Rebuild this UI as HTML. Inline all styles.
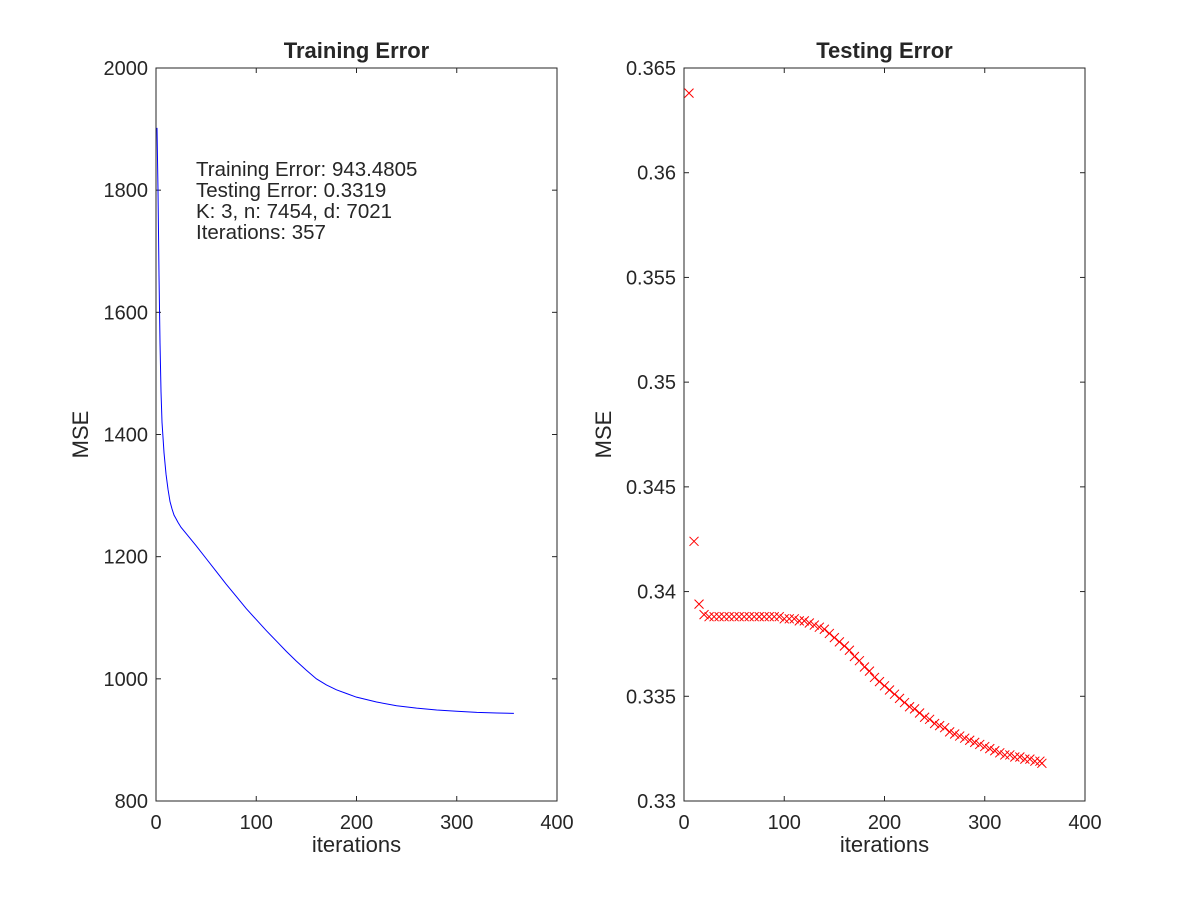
<!DOCTYPE html>
<html><head><meta charset="utf-8"><style>
html,body{margin:0;padding:0;background:#fff;}
svg text{font-family:"Liberation Sans",Helvetica,Arial,sans-serif;fill:#262626;}
</style></head><body>
<svg id="fig" width="1200" height="900" xmlns="http://www.w3.org/2000/svg"></svg>
<script>
const trainIters=[1,2,3,4,5,6,8,10,12,14,16,18,20,22,25,30,40,50,60,70,80,90,100,110,120,130,140,150,160,170,180,190,200,220,240,260,280,300,320,340,357];
const trainVals=[1902,1800,1660,1550,1470,1420,1370,1335,1310,1290,1278,1268,1262,1256,1248,1238,1218,1197,1176,1155,1135,1115,1097,1079,1062,1045,1029,1014,1000,990,982,976,970,962,956,952,949,947,945,944,943.5];
const testIters=[5,10,15,20,25,30,35,40,45,50,55,60,65,70,75,80,85,90,95,100,105,110,115,120,125,130,135,140,145,150,155,160,165,170,175,180,185,190,195,200,205,210,215,220,225,230,235,240,245,250,255,260,265,270,275,280,285,290,295,300,305,310,315,320,325,330,335,340,345,350,355,357];
const testVals=[0.3638,0.3424,0.3394,0.3389,0.3388,0.3388,0.3388,0.3388,0.3388,0.3388,0.3388,0.3388,0.3388,0.3388,0.3388,0.3388,0.3388,0.3388,0.3388,0.3387,0.3387,0.3387,0.3386,0.3386,0.3385,0.3384,0.3383,0.3382,0.3380,0.3378,0.3376,0.3374,0.3372,0.3369,0.3367,0.3364,0.3362,0.3359,0.3357,0.3355,0.3353,0.3351,0.3349,0.3347,0.3345,0.3344,0.3342,0.3340,0.3339,0.3337,0.3336,0.3335,0.3333,0.3332,0.3331,0.3330,0.3329,0.3328,0.3327,0.3326,0.3325,0.3324,0.3323,0.3322,0.3322,0.3321,0.3321,0.3320,0.3320,0.3319,0.3319,0.3318];
const xTicks=[0,100,200,300,400];
const trainYTicks=[800,1000,1200,1400,1600,1800,2000];
const testYTicks=[0.33,0.335,0.34,0.345,0.35,0.355,0.36,0.365];
const testYLabels=["0.33","0.335","0.34","0.345","0.35","0.355","0.36","0.365"];

const NS="http://www.w3.org/2000/svg";
const svg=document.getElementById('fig');
function mk(tag,attrs,parent){const e=document.createElementNS(NS,tag);for(const k in attrs)e.setAttribute(k,attrs[k]);(parent||svg).appendChild(e);return e;}

function axes(name,x0,x1,y0,y1,ymin,ymax,yTicks,yLabels,title,ylabX){
  const g=mk('g',{});
  
  
  const sx=v=>x0+(v-0)/400*(x1-x0);
  const sy=v=>y1-(v-ymin)/(ymax-ymin)*(y1-y0);
  const box=mk('rect',{x:x0,y:y0,width:x1-x0,height:y1-y0,fill:'none',stroke:'#262626','stroke-width':1},g);
  
  
  xTicks.forEach(t=>{
    const x=sx(t);
    mk('line',{x1:x,y1:y1,x2:x,y2:y1-5,stroke:'#262626'},g);
    mk('line',{x1:x,y1:y0,x2:x,y2:y0+5,stroke:'#262626'},g);
    const tx=mk('text',{x:x,y:y1+28,'font-size':20,'text-anchor':'middle'},g);
    tx.textContent=t;
    
    
  });
  yTicks.forEach((t,i)=>{
    const y=sy(t);
    mk('line',{x1:x0,y1:y,x2:x0+5,y2:y,stroke:'#262626'},g);
    mk('line',{x1:x1,y1:y,x2:x1-5,y2:y,stroke:'#262626'},g);
    const tx=mk('text',{x:x0-8,y:y+7,'font-size':20,'text-anchor':'end'},g);
    tx.textContent=yLabels?yLabels[i]:t;
    
    
  });
  const xl=mk('text',{x:(x0+x1)/2,y:y1+51,'font-size':22,'text-anchor':'middle'},g);
  xl.textContent='iterations';
  
  
  const yc=(y0+y1)/2;
  const yl=mk('text',{x:ylabX,y:yc,'font-size':22,'text-anchor':'middle',transform:`rotate(-90 ${ylabX} ${yc})`,dy:8},g);
  yl.textContent='MSE';
  
  
  const tt=mk('text',{x:(x0+x1)/2,y:y0-10,'font-size':22,'font-weight':'bold','text-anchor':'middle',fill:'#000'},g);
  tt.textContent=title;
  
  
  return {g,sx,sy};
}

const A=axes('training-error-axes',156,557,68,801,800,2000,trainYTicks,null,'Training Error',80);
const pts=trainIters.map((it,i)=>A.sx(it).toFixed(2)+','+A.sy(trainVals[i]).toFixed(2)).join(' ');
const pl=mk('polyline',{points:pts,fill:'none',stroke:'#0000ff','stroke-width':1},A.g);


const ann=['Training Error: 943.4805','Testing Error: 0.3319','K: 3, n: 7454, d: 7021','Iterations: 357'];
ann.forEach((s,i)=>{
  const t=mk('text',{x:196,y:176+i*21,'font-size':20.5,fill:'#000'},A.g);
  t.textContent=s;
  
  
});

const B=axes('testing-error-axes',684,1085,68,801,0.33,0.365,testYTicks,testYLabels,'Testing Error',603);
testIters.forEach((it,i)=>{
  const x=B.sx(it),y=B.sy(testVals[i]),r=4.5;
  const m=mk('path',{d:`M${x-r},${y-r}L${x+r},${y+r}M${x-r},${y+r}L${x+r},${y-r}`,stroke:'#ff0000','stroke-width':1,fill:'none'},B.g);
  
  
});
</script>
</body></html>
